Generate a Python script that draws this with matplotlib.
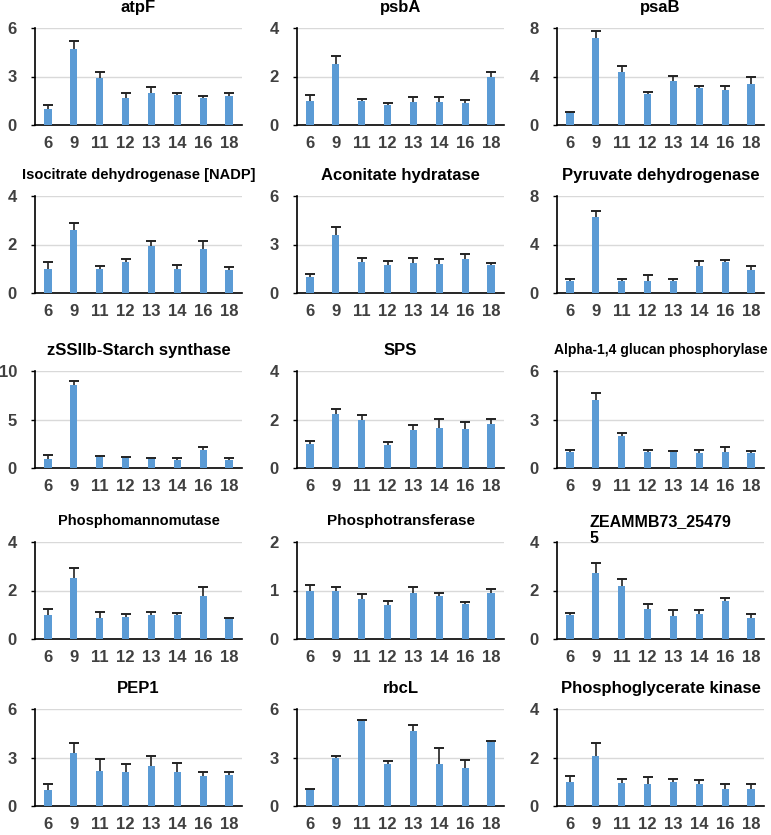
import matplotlib.pyplot as plt

plt.rcParams['font.family'] = ['Liberation Sans', 'DejaVu Sans']
plt.rcParams['font.weight'] = 'bold'

days = ['6', '9', '11', '12', '13', '14', '16', '18']

titles = ['atpF', 'psbA', 'psaB',
          'Isocitrate dehydrogenase [NADP]', 'Aconitate hydratase', 'Pyruvate dehydrogenase',
          'zSSIIb-Starch synthase', 'SPS', 'Alpha-1,4 glucan phosphorylase',
          'Phosphomannomutase', 'Phosphotransferase', 'ZEAMMB73_25479\n5',
          'PEP1', 'rbcL', 'Phosphoglycerate kinase']
title_sizes = [12, 12, 12, 10.5, 12, 12, 12, 12, 10, 10.5, 11, 11.5, 12, 12, 12]
ymax = [6, 4, 8, 4, 6, 8, 10, 4, 6, 4, 2, 4, 6, 6, 4]

# mean values
atpF = [1.0, 4.73, 2.92, 1.7, 1.97, 1.83, 1.66, 1.77]
psbA = [1.0, 2.53, 1.0, 0.82, 0.96, 0.93, 0.92, 1.99]
psaB = [0.96, 7.18, 4.38, 2.52, 3.59, 3.04, 2.88, 3.42]
icdh = [0.99, 2.58, 1.0, 1.26, 1.92, 0.99, 1.83, 0.94]
acon = [1.01, 3.6, 1.94, 1.72, 1.88, 1.82, 2.09, 1.76]
pdh = [0.97, 6.26, 0.97, 0.97, 0.97, 2.26, 2.59, 1.9]
ssiib = [0.92, 8.52, 1.15, 1.05, 0.98, 0.79, 1.87, 0.79]
sps = [1.01, 2.22, 2.0, 0.95, 1.56, 1.63, 1.59, 1.82]
glucan = [0.97, 4.19, 1.95, 0.97, 0.97, 0.92, 0.97, 0.9]
pmm = [0.97, 2.52, 0.86, 0.91, 0.99, 0.98, 1.79, 0.86]
ptr = [1.0, 0.99, 0.83, 0.7, 0.95, 0.89, 0.72, 0.95]
zea = [0.99, 2.71, 2.2, 1.22, 0.95, 1.02, 1.55, 0.88]
pep1 = [0.97, 3.27, 2.17, 2.09, 2.46, 2.09, 1.86, 1.94]
rbcl = [1.03, 3.0, 5.28, 2.59, 4.66, 2.59, 2.38, 3.93]
pgk = [0.98, 2.08, 0.94, 0.91, 0.97, 0.91, 0.72, 0.72]

# upper error (SD)
atpF_err = [0.25, 0.45, 0.33, 0.25, 0.35, 0.17, 0.13, 0.24]
psbA_err = [0.23, 0.31, 0.08, 0.1, 0.18, 0.21, 0.12, 0.19]
psaB_err = [0.11, 0.55, 0.5, 0.19, 0.44, 0.19, 0.35, 0.55]
icdh_err = [0.28, 0.3, 0.1, 0.15, 0.22, 0.18, 0.31, 0.14]
acon_err = [0.15, 0.46, 0.23, 0.25, 0.29, 0.27, 0.31, 0.12]
pdh_err = [0.16, 0.47, 0.22, 0.52, 0.22, 0.36, 0.17, 0.31]
ssiib_err = [0.39, 0.5, 0.04, 0.04, 0.04, 0.19, 0.29, 0.26]
sps_err = [0.11, 0.23, 0.18, 0.13, 0.21, 0.38, 0.29, 0.19]
glucan_err = [0.16, 0.47, 0.23, 0.16, 0.1, 0.21, 0.35, 0.13]
pmm_err = [0.27, 0.4, 0.24, 0.11, 0.14, 0.11, 0.36, 0.02]
ptr_err = [0.12, 0.09, 0.09, 0.08, 0.12, 0.05, 0.04, 0.08]
zea_err = [0.1, 0.41, 0.28, 0.21, 0.24, 0.17, 0.13, 0.17]
pep1_err = [0.37, 0.62, 0.71, 0.5, 0.62, 0.54, 0.25, 0.15]
rbcl_err = [0.03, 0.08, 0.03, 0.22, 0.37, 0.97, 0.48, 0.06]
pgk_err = [0.26, 0.53, 0.16, 0.3, 0.13, 0.18, 0.19, 0.19]

means = [atpF, psbA, psaB, icdh, acon, pdh, ssiib, sps, glucan,
         pmm, ptr, zea, pep1, rbcl, pgk]
errs = [atpF_err, psbA_err, psaB_err, icdh_err, acon_err, pdh_err, ssiib_err, sps_err,
        glucan_err, pmm_err, ptr_err, zea_err, pep1_err, rbcl_err, pgk_err]

fig = plt.figure(figsize=(7.71, 8.35), dpi=100)

W, H = 771, 835
lefts = [35, 297, 557]
tops = [28, 196, 371, 542, 709]
aw, ah = 207, 97

bar_color = '#5b9bd5'
txt_gray = '#404040'

for i in range(15):
    r, c = divmod(i, 3)
    ax = fig.add_axes([lefts[c] / W, 1 - (tops[r] + ah) / H, aw / W, ah / H])
    x = list(range(len(days)))
    ax.bar(x, means[i], width=0.28, color=bar_color, zorder=3)
    # upper-only error bars: stem plus a cap at the top
    tops_err = [m + e for m, e in zip(means[i], errs[i])]
    ax.vlines(x, means[i], tops_err, color='#222222', lw=1.2, zorder=4)
    ax.plot(x, tops_err, ls='none', marker='_', ms=7, mew=1.4, color='#222222', zorder=4)
    ax.set_xlim(-0.5, 7.5)
    ax.set_ylim(0, ymax[i])
    ax.set_yticks([0, ymax[i] / 2, ymax[i]])
    ax.set_yticklabels([f'{v:g}' for v in [0, ymax[i] / 2, ymax[i]]])
    ax.set_xticks(x)
    ax.set_xticklabels(days)
    for v in [ymax[i] / 2, ymax[i]]:
        ax.axhline(v, color='#d9d9d9', lw=1, zorder=1)
    for s in ['top', 'right']:
        ax.spines[s].set_visible(False)
    ax.spines['left'].set_color('black')
    ax.spines['bottom'].set_color('black')
    ax.spines['left'].set_linewidth(1.2)
    ax.spines['bottom'].set_linewidth(1.2)
    ax.tick_params(axis='x', length=0, pad=8, labelsize=12, labelcolor=txt_gray)
    ax.tick_params(axis='y', length=3, width=1, pad=10, labelsize=12, labelcolor=txt_gray)
    ax.text(0.5, 1.29, titles[i], transform=ax.transAxes, ha='center', va='top',
            fontsize=title_sizes[i], fontweight='bold', multialignment='left')

fig.savefig('out.png', dpi=100)
